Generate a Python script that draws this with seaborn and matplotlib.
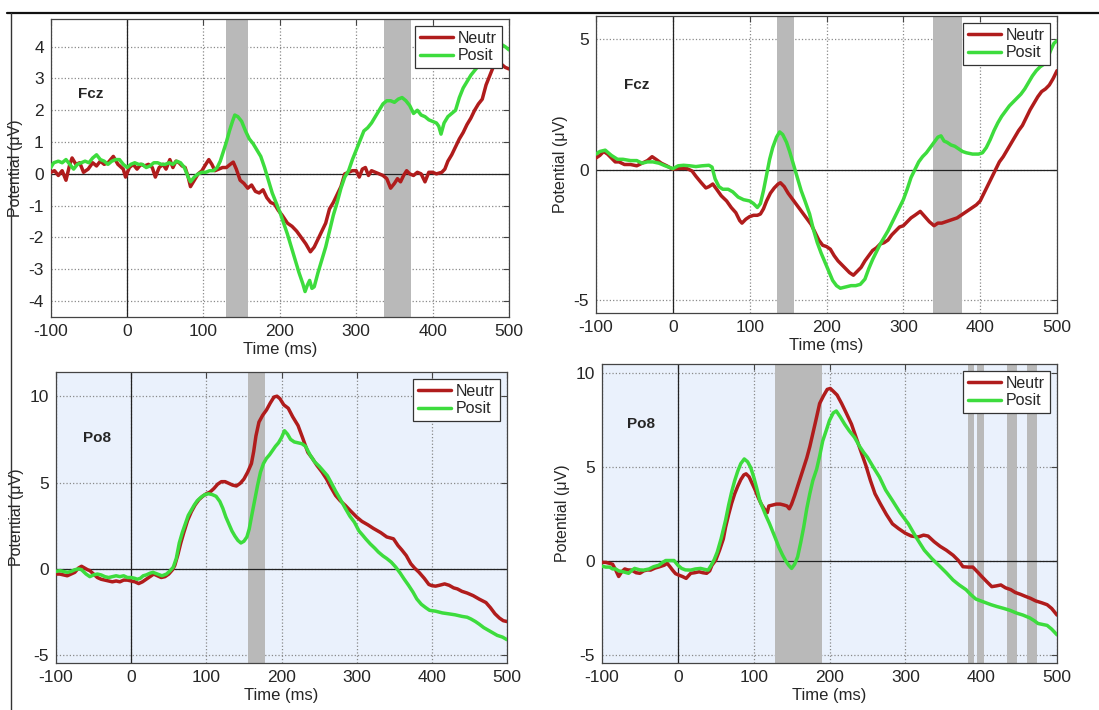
import matplotlib
matplotlib.use("Agg")
import matplotlib.pyplot as plt
from matplotlib.lines import Line2D
import pandas as pd
import seaborn as sns

# ---------------- data ----------------
conditions = ["Neutr", "Posit"]
xticks = [-100, 0, 100, 200, 300, 400, 500]

# Fcz, left panel
fcz1_t_neutr = [-100, -95, -90, -85, -80, -75, -72, -67, -62, -57, -51, -45, -40, -35, -30, -25, -18, -12, -5, -2,
                3, 8, 13, 18, 23, 28, 33, 37, 42, 47, 51, 56, 60, 64, 68, 72, 76, 80, 83, 88, 93, 98, 103, 107, 111,
                115, 120, 125, 130, 135, 139, 143, 148, 153, 158, 163, 168, 173, 178, 183, 188, 193, 198, 203, 210,
                216, 222, 228, 234, 240, 245, 250, 255, 260, 265, 270, 275, 280, 285, 290, 295, 300, 304, 308, 312,
                316, 320, 325, 330, 335, 340, 345, 350, 354, 358, 362, 366, 370, 375, 380, 385, 390, 395, 400, 405,
                412, 416, 420, 425, 430, 435, 440, 445, 450, 455, 460, 465, 470, 475, 480, 485, 490, 495, 500]
fcz1_neutr = [0.05, 0.1, -0.05, 0.1, -0.2, 0.3, 0.5, 0.3, 0.35, 0.05, 0.15, 0.35, 0.25, 0.4, 0.3, 0.35, 0.55, 0.3,
              0.15, -0.1, 0.2, 0.3, 0.15, 0.3, 0.25, 0.3, 0.2, -0.1, 0.2, 0.3, 0.15, 0.45, 0.2, 0.4, 0.35, 0.25, 0.2,
              -0.1, -0.4, -0.2, 0.0, 0.1, 0.3, 0.45, 0.3, 0.1, 0.15, 0.2, 0.2, 0.3, 0.37, 0.15, -0.2, -0.3, -0.45,
              -0.35, -0.55, -0.6, -0.5, -0.75, -0.9, -0.95, -1.15, -1.3, -1.55, -1.65, -1.8, -2.0, -2.2, -2.45,
              -2.3, -2.05, -1.8, -1.55, -1.1, -0.9, -0.65, -0.4, 0.0, 0.05, 0.1, 0.1, -0.1, 0.15, 0.2, -0.05, 0.1,
              0.05, 0.0, -0.05, -0.15, -0.45, -0.3, -0.15, -0.25, -0.05, 0.1, 0.0, -0.05, 0.05, 0.0, -0.25, 0.05,
              0.05, 0.0, 0.05, 0.15, 0.4, 0.6, 0.85, 1.1, 1.3, 1.55, 1.75, 2.0, 2.2, 2.35, 2.8, 3.1, 3.4, 3.5,
              3.45, 3.35, 3.3]
fcz1_t_posit = [-100, -96, -90, -85, -80, -75, -70, -65, -60, -55, -50, -45, -40, -35, -30, -25, -20, -15, -10, -5,
                0, 5, 10, 15, 20, 25, 30, 35, 40, 45, 50, 55, 60, 65, 70, 75, 80, 83, 88, 93, 98, 103, 108, 113,
                118, 122, 126, 130, 134, 138, 141, 145, 150, 155, 160, 165, 170, 175, 180, 185, 190, 195, 200, 205,
                210, 215, 220, 225, 230, 233, 236, 239, 242, 245, 250, 255, 260, 265, 270, 275, 280, 285, 290, 295,
                300, 305, 310, 315, 320, 325, 330, 335, 340, 345, 350, 355, 360, 365, 370, 375, 380, 385, 390, 395,
                400, 405, 408, 411, 415, 420, 425, 430, 435, 440, 445, 450, 455, 460, 470, 480, 488, 495, 500]
fcz1_posit = [0.2, 0.35, 0.4, 0.35, 0.45, 0.3, 0.15, 0.3, 0.35, 0.4, 0.35, 0.5, 0.6, 0.45, 0.4, 0.3, 0.4, 0.45,
              0.45, 0.3, 0.2, 0.3, 0.35, 0.3, 0.3, 0.2, 0.25, 0.35, 0.35, 0.3, 0.3, 0.35, 0.3, 0.4, 0.35, 0.2, -0.1,
              -0.25, -0.1, 0.0, 0.05, 0.05, 0.1, 0.1, 0.2, 0.4, 0.7, 1.0, 1.35, 1.65, 1.85, 1.8, 1.65, 1.35, 1.1,
              0.95, 0.75, 0.55, 0.2, -0.2, -0.6, -0.9, -1.2, -1.55, -1.9, -2.3, -2.7, -3.1, -3.45, -3.7, -3.5,
              -3.35, -3.6, -3.55, -3.1, -2.7, -2.3, -1.8, -1.3, -0.9, -0.45, -0.1, 0.1, 0.45, 0.75, 1.05, 1.35,
              1.45, 1.6, 1.8, 2.0, 2.2, 2.3, 2.3, 2.25, 2.35, 2.4, 2.3, 2.15, 1.9, 2.0, 1.85, 1.8, 1.7, 1.65, 1.6,
              1.5, 1.25, 1.6, 1.8, 1.9, 2.0, 2.4, 2.7, 2.9, 3.1, 3.25, 3.4, 3.7, 3.95, 4.1, 4.0, 3.9]

# Fcz, right panel
fcz2_t_neutr = [-100, -95, -90, -85, -80, -75, -70, -63, -55, -47, -40, -33, -27, -22, -15, -8, 0, 8, 18, 25, 30,
                37, 43, 47, 52, 57, 63, 70, 76, 82, 87, 90, 95, 100, 105, 110, 114, 118, 122, 127, 132, 137, 140,
                145, 150, 155, 160, 165, 170, 175, 180, 185, 190, 195, 200, 205, 210, 215, 220, 225, 230, 235, 240,
                245, 250, 255, 260, 265, 270, 275, 280, 285, 290, 295, 300, 305, 310, 315, 322, 328, 334, 340, 345,
                350, 355, 360, 365, 370, 375, 380, 385, 390, 395, 400, 405, 410, 415, 420, 425, 430, 435, 440, 445,
                450, 455, 460, 465, 470, 475, 480, 485, 490, 495, 500]
fcz2_neutr = [0.45, 0.55, 0.7, 0.6, 0.45, 0.3, 0.3, 0.2, 0.2, 0.15, 0.25, 0.35, 0.5, 0.4, 0.25, 0.15, 0.02, 0.05,
              0.05, -0.05, -0.25, -0.5, -0.7, -0.65, -0.55, -0.75, -1.0, -1.2, -1.45, -1.65, -1.95, -2.05, -1.9,
              -1.8, -1.75, -1.75, -1.7, -1.5, -1.2, -0.9, -0.7, -0.55, -0.5, -0.65, -0.9, -1.1, -1.3, -1.5, -1.7,
              -1.9, -2.1, -2.4, -2.7, -2.9, -2.95, -3.05, -3.3, -3.5, -3.65, -3.8, -3.95, -4.05, -3.9, -3.75, -3.5,
              -3.3, -3.1, -3.0, -2.85, -2.8, -2.7, -2.5, -2.35, -2.2, -2.15, -2.0, -1.85, -1.75, -1.6, -1.8, -2.0,
              -2.15, -2.05, -2.05, -2.0, -1.95, -1.9, -1.85, -1.75, -1.65, -1.55, -1.45, -1.35, -1.2, -0.9, -0.6,
              -0.3, 0.0, 0.3, 0.5, 0.75, 1.0, 1.25, 1.5, 1.7, 2.0, 2.3, 2.55, 2.8, 3.0, 3.1, 3.25, 3.5, 3.8]
fcz2_t_posit = [-100, -95, -88, -80, -72, -65, -55, -47, -40, -33, -26, -18, -10, 0, 7, 14, 22, 30, 38, 47, 51, 55,
                60, 65, 72, 78, 85, 92, 100, 105, 110, 114, 118, 122, 126, 130, 135, 139, 143, 148, 152, 157, 162,
                167, 172, 178, 183, 188, 193, 198, 203, 208, 213, 218, 225, 232, 238, 244, 250, 255, 260, 265, 270,
                275, 280, 285, 290, 295, 300, 305, 310, 315, 320, 325, 330, 335, 340, 345, 349, 353, 357, 362, 367,
                372, 377, 382, 390, 398, 403, 408, 413, 418, 423, 428, 433, 438, 443, 448, 453, 458, 463, 468, 473,
                478, 483, 488, 492, 496, 500]
fcz2_posit = [0.6, 0.7, 0.75, 0.55, 0.4, 0.4, 0.35, 0.35, 0.25, 0.3, 0.3, 0.25, 0.15, 0.04, 0.15, 0.17, 0.15,
              0.12, 0.15, 0.17, 0.1, -0.35, -0.65, -0.75, -0.75, -0.85, -1.05, -1.15, -1.2, -1.3, -1.45, -1.3,
              -0.8, -0.2, 0.4, 0.85, 1.25, 1.45, 1.35, 1.05, 0.7, 0.2, -0.3, -0.8, -1.2, -1.7, -2.3, -2.8, -3.2,
              -3.55, -3.9, -4.25, -4.45, -4.55, -4.5, -4.45, -4.45, -4.4, -4.2, -3.8, -3.45, -3.15, -2.85, -2.6,
              -2.35, -2.05, -1.75, -1.45, -1.15, -0.75, -0.3, 0.0, 0.3, 0.5, 0.65, 0.85, 1.05, 1.25, 1.3, 1.1,
              1.05, 0.95, 0.9, 0.8, 0.7, 0.65, 0.6, 0.6, 0.65, 0.85, 1.15, 1.5, 1.8, 2.05, 2.25, 2.45, 2.6, 2.75,
              2.9, 3.1, 3.35, 3.6, 3.8, 3.95, 4.05, 4.3, 4.6, 4.85, 4.95]

# Po8, left panel
po8a_t_neutr = [-100, -95, -90, -85, -80, -75, -70, -66, -62, -58, -55, -50, -45, -40, -35, -30, -25, -20, -15,
                -10, -5, 0, 5, 10, 15, 20, 25, 30, 35, 40, 45, 50, 55, 58, 62, 66, 70, 75, 80, 85, 90, 95, 100, 105,
                110, 115, 120, 125, 130, 135, 140, 145, 150, 155, 160, 163, 166, 170, 175, 180, 185, 190, 194, 198,
                203, 209, 215, 222, 228, 235, 241, 247, 254, 260, 266, 272, 278, 285, 292, 300, 307, 315, 322, 332,
                340, 349, 355, 360, 366, 372, 377, 383, 390, 396, 400, 405, 410, 417, 423, 429, 434, 440, 447, 455,
                463, 472, 478, 484, 490, 495, 500]
po8a_neutr = [-0.3, -0.3, -0.35, -0.4, -0.3, -0.2, 0.05, 0.15, 0.05, -0.05, -0.1, -0.3, -0.5, -0.6, -0.65, -0.7,
              -0.75, -0.7, -0.75, -0.65, -0.65, -0.7, -0.75, -0.85, -0.75, -0.6, -0.45, -0.3, -0.4, -0.5, -0.45,
              -0.3, -0.05, 0.2, 0.8, 1.5, 2.1, 2.8, 3.3, 3.7, 4.0, 4.2, 4.35, 4.45, 4.65, 4.9, 5.05, 5.05, 4.95,
              4.85, 4.8, 4.95, 5.2, 5.6, 6.1, 6.8, 7.7, 8.5, 8.9, 9.2, 9.6, 9.95, 10.0, 9.85, 9.5, 9.3, 8.8, 8.3,
              7.6, 6.75, 6.4, 6.0, 5.6, 5.2, 4.7, 4.25, 3.95, 3.67, 3.35, 3.0, 2.75, 2.55, 2.35, 2.1, 1.85, 1.74,
              1.35, 1.1, 0.77, 0.3, 0.05, -0.2, -0.55, -0.9, -0.97, -1.0, -0.95, -0.87, -0.95, -1.1, -1.16, -1.3,
              -1.4, -1.55, -1.75, -1.95, -2.25, -2.6, -2.85, -3.0, -3.05]
po8a_t_posit = [-100, -95, -90, -85, -80, -75, -70, -66, -60, -55, -50, -45, -40, -35, -30, -25, -20, -15, -10, -5,
                0, 5, 8, 12, 16, 20, 25, 29, 35, 41, 47, 52, 56, 60, 64, 68, 72, 76, 80, 84, 88, 93, 98, 103, 108,
                113, 118, 122, 126, 130, 134, 138, 142, 146, 150, 154, 157, 160, 164, 168, 172, 176, 180, 184, 188,
                192, 196, 200, 204, 208, 212, 217, 222, 227, 232, 238, 244, 250, 255, 261, 266, 272, 278, 285, 291,
                297, 303, 308, 312, 318, 324, 329, 335, 340, 346, 352, 358, 363, 369, 375, 380, 386, 392, 397, 405,
                414, 422, 431, 440, 447, 452, 458, 463, 469, 475, 481, 487, 494, 500]
po8a_posit = [-0.15, -0.1, -0.15, -0.2, -0.15, -0.05, 0.0, -0.05, -0.3, -0.45, -0.35, -0.3, -0.35, -0.45, -0.5,
              -0.45, -0.4, -0.45, -0.4, -0.5, -0.5, -0.55, -0.6, -0.55, -0.4, -0.35, -0.25, -0.2, -0.3, -0.4, -0.3,
              -0.1, 0.1, 0.6, 1.5, 2.1, 2.6, 3.1, 3.4, 3.7, 3.95, 4.15, 4.3, 4.35, 4.3, 4.2, 3.9, 3.5, 3.0, 2.6,
              2.2, 1.9, 1.65, 1.5, 1.6, 1.85, 2.3, 3.0, 3.9, 4.8, 5.6, 6.1, 6.4, 6.6, 6.85, 7.1, 7.3, 7.6, 8.0, 7.8,
              7.5, 7.35, 7.3, 7.25, 7.1, 6.6, 6.2, 5.95, 5.7, 5.4, 5.0, 4.5, 4.05, 3.5, 3.05, 2.7, 2.2, 1.95, 1.74,
              1.45, 1.2, 0.97, 0.75, 0.6, 0.39, 0.1, -0.25, -0.58, -0.95, -1.35, -1.74, -2.05, -2.25, -2.4, -2.45,
              -2.55, -2.6, -2.66, -2.75, -2.8, -2.9, -3.05, -3.2, -3.4, -3.55, -3.7, -3.85, -3.95, -4.1]

# Po8, right panel
po8b_t_neutr = [-100, -95, -90, -86, -82, -78, -74, -70, -66, -61, -55, -50, -45, -40, -36, -30, -24, -18, -14,
                -10, -7, -3, 1, 6, 11, 17, 22, 28, 33, 38, 42, 45, 50, 55, 60, 63, 67, 71, 75, 79, 83, 87, 90, 94, 98,
                102, 106, 110, 114, 118, 120, 125, 130, 135, 140, 144, 147, 150, 154, 158, 162, 166, 170, 174, 178,
                182, 187, 192, 197, 201, 205, 210, 216, 222, 229, 235, 241, 248, 254, 260, 267, 275, 283, 291, 300,
                308, 317, 324, 330, 338, 346, 354, 363, 370, 376, 383, 389, 395, 401, 408, 414, 420, 426, 432, 439,
                445, 452, 458, 465, 472, 480, 487, 493, 500]
po8b_neutr = [-0.05, -0.05, -0.1, -0.15, -0.45, -0.8, -0.55, -0.4, -0.45, -0.46, -0.6, -0.63, -0.5, -0.45, -0.46,
              -0.35, -0.28, -0.2, -0.1, -0.3, -0.46, -0.65, -0.72, -0.8, -0.9, -0.63, -0.6, -0.55, -0.6, -0.63,
              -0.5, -0.2, 0.07, 0.6, 1.2, 1.83, 2.5, 3.1, 3.6, 4.0, 4.35, 4.6, 4.66, 4.5, 4.15, 3.8, 3.4, 3.05,
              2.8, 2.6, 2.95, 3.0, 3.05, 3.05, 3.0, 2.95, 2.8, 3.05, 3.5, 4.0, 4.5, 5.0, 5.5, 6.1, 6.8, 7.5, 8.4,
              8.8, 9.15, 9.2, 9.05, 8.85, 8.4, 7.9, 7.3, 6.6, 5.9, 5.1, 4.3, 3.6, 3.07, 2.5, 2.0, 1.75, 1.5, 1.35,
              1.3, 1.4, 1.35, 1.05, 0.8, 0.6, 0.33, 0.05, -0.28, -0.3, -0.3, -0.55, -0.81, -1.1, -1.34, -1.3, -1.25,
              -1.4, -1.5, -1.65, -1.75, -1.85, -1.96, -2.1, -2.2, -2.3, -2.5, -2.85]
po8b_t_posit = [-100, -95, -90, -86, -82, -78, -72, -65, -60, -57, -50, -45, -38, -32, -25, -20, -16, -10, -5, 0,
                5, 10, 17, 23, 30, 35, 40, 44, 48, 52, 57, 63, 67, 71, 75, 79, 83, 87.6, 92, 96, 100, 104, 108, 112,
                116, 121, 125, 129, 133, 138, 142, 146, 150, 154, 158, 162, 166, 170, 174, 178, 183, 187, 191, 196,
                200, 205, 209, 214, 220, 226, 233, 240, 245, 250, 258, 266, 274, 283, 293, 304, 314, 325, 335, 346,
                354, 363, 371, 380, 386, 393, 403, 413, 421, 430, 438, 447, 455, 464, 470, 475, 481, 487, 493, 500]
po8b_posit = [-0.25, -0.3, -0.3, -0.4, -0.4, -0.5, -0.55, -0.63, -0.45, -0.37, -0.45, -0.46, -0.4, -0.28, -0.2,
              -0.05, 0.05, 0.05, 0.05, -0.2, -0.37, -0.45, -0.46, -0.4, -0.37, -0.42, -0.46, -0.2, 0.1, 0.5, 1.2,
              2.2, 3.0, 3.7, 4.3, 4.8, 5.2, 5.45, 5.3, 5.0, 4.5, 3.9, 3.25, 2.85, 2.45, 2.0, 1.6, 1.2, 0.78, 0.35,
              0.05, -0.19, -0.37, -0.15, 0.25, 1.0, 1.83, 2.8, 3.6, 4.3, 4.9, 5.6, 6.4, 7.0, 7.5, 7.9, 8.0, 7.7,
              7.3, 6.95, 6.6, 6.1, 5.8, 5.54, 5.0, 4.48, 3.8, 3.24, 2.6, 2.0, 1.3, 0.6, 0.15, -0.28, -0.6, -0.99,
              -1.25, -1.5, -1.75, -2.0, -2.15, -2.3, -2.4, -2.5, -2.6, -2.75, -2.85, -3.0, -3.15, -3.3, -3.35,
              -3.4, -3.6, -3.9]

# significant intervals (ms)
fcz1_bands = [(130, 158), (336, 372)]
fcz2_bands = [(136, 158), (338, 377)]
po8a_bands = [(155, 178)]
po8b_bands = [(128, 190), (383, 391), (395, 404), (434, 447), (461, 473)]

# ---------------- style ----------------
sns.set_style("white")
plt.rcParams['font.family'] = ['Liberation Sans', 'DejaVu Sans']
plt.rcParams['axes.unicode_minus'] = False

palette = {"Neutr": "#b01c1c", "Posit": "#3ddc3d"}
band_color = "#b9b9b9"

fig = plt.figure(figsize=(10.99, 7.1), dpi=100)


def draw_panel(rect, name, name_xy, tn, vn, tp, vp, bands, ylim, yticks, bg):
    ax = fig.add_axes(rect)
    ax.set_facecolor(bg)
    for a, b in bands:
        ax.axvspan(a, b, color=band_color, lw=0, zorder=1)
    ax.axhline(0, color="#222222", lw=0.9, zorder=2)
    ax.axvline(0, color="#222222", lw=0.9, zorder=2)

    df = pd.concat([
        pd.DataFrame({"t": tn, "v": vn, "cond": "Neutr"}),
        pd.DataFrame({"t": tp, "v": vp, "cond": "Posit"}),
    ])
    sns.lineplot(data=df, x="t", y="v", hue="cond", palette=palette, hue_order=conditions,
                 estimator=None, lw=2.5, legend=False, ax=ax, zorder=3)

    ax.set_xlim(-100, 500)
    ax.set_ylim(*ylim)
    ax.set_xticks(xticks)
    ax.set_yticks(yticks)
    ax.grid(True, ls=":", color="#8a8a8a", lw=0.9)
    ax.set_axisbelow(True)
    ax.tick_params(direction="in", length=4, top=True, right=True, labelsize=12.5, pad=5,
                   color="#444444")
    for s in ax.spines.values():
        s.set_color("#444444")
        s.set_linewidth(0.9)
    ax.set_xlabel("Time (ms)", fontsize=12, labelpad=2)
    ax.set_ylabel("Potential (\u03bcV)", fontsize=11.5, labelpad=4)
    ax.text(name_xy[0], name_xy[1], name, fontsize=11, fontweight="bold", va="center", ha="left")

    handles = [Line2D([], [], color=palette[c], lw=2.5) for c in conditions]
    leg = ax.legend(handles, conditions, loc="upper right", fontsize=11.5, frameon=True, fancybox=False,
                    handlelength=2.1, handletextpad=0.3, labelspacing=0.15, borderpad=0.3,
                    borderaxespad=0.45, framealpha=1)
    leg.get_frame().set_edgecolor("#333333")
    leg.get_frame().set_linewidth(0.9)
    return ax


W, H = 1099.0, 710.0


def rect(l, r, t, b):
    return [l / W, 1 - b / H, (r - l) / W, (b - t) / H]


draw_panel(rect(50.7, 509, 19, 317), "Fcz", (-64, 2.5), fcz1_t_neutr, fcz1_neutr, fcz1_t_posit, fcz1_posit,
           fcz1_bands, (-4.5, 4.87), [-4, -3, -2, -1, 0, 1, 2, 3, 4], "white")
draw_panel(rect(596, 1057, 16, 313), "Fcz", (-64, 3.25), fcz2_t_neutr, fcz2_neutr, fcz2_t_posit, fcz2_posit,
           fcz2_bands, (-5.5, 5.9), [-5, 0, 5], "white")
draw_panel(rect(56, 507, 372, 663), "Po8", (-64, 7.6), po8a_t_neutr, po8a_neutr, po8a_t_posit, po8a_posit,
           po8a_bands, (-5.45, 11.4), [-5, 0, 5, 10], "#eaf1fc")
draw_panel(rect(602, 1057, 364, 663), "Po8", (-67, 7.3), po8b_t_neutr, po8b_neutr, po8b_t_posit, po8b_posit,
           po8b_bands, (-5.4, 10.5), [-5, 0, 5, 10], "#eaf1fc")

# frame lines at the top and left edge of the picture
fig.add_artist(Line2D([7 / W, 1], [1 - 13 / H, 1 - 13 / H], color="#111111", lw=1.6))
fig.add_artist(Line2D([11 / W, 11 / W], [0, 1 - 13 / H], color="#333333", lw=1.0))

fig.savefig("out.png", dpi=100)
